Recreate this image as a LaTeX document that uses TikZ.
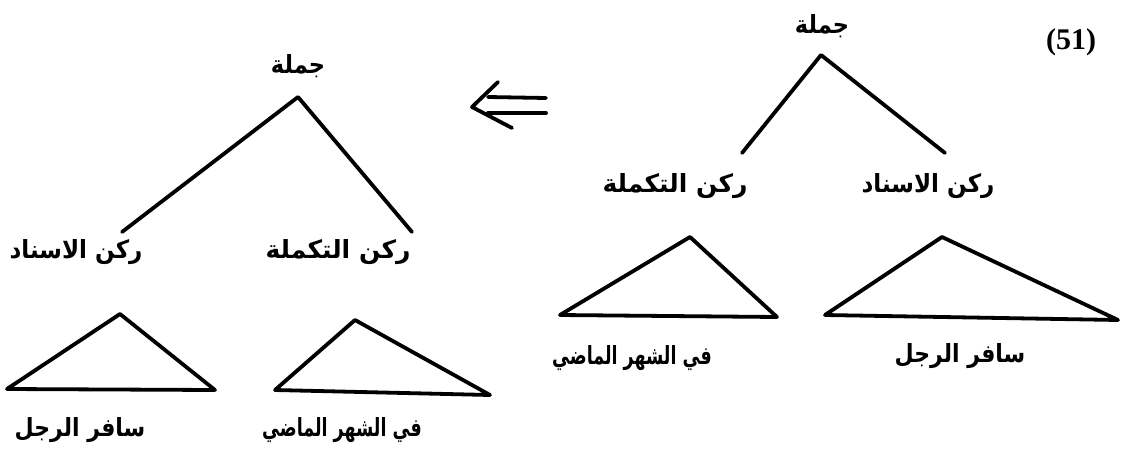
\documentclass[tikz,border=0pt]{standalone}
\usepackage{fontspec}
\usepackage{graphicx}
\usepackage{tikz}
\usetikzlibrary{positioning}
\TeXXeTstate=1
\newfontfamily\arabicfont[Script=Arabic,BoldFont={DejaVu Sans Bold}]{DejaVu Sans}
\setmainfont{Liberation Serif}

\begin{document}
\begin{tikzpicture}[
    x=1pt, y=-1pt,
    treeline/.style={line width=3.8pt, line join=round, line cap=round},
    lbl/.style={inner sep=0pt, font=\arabicfont\bfseries\fontsize{25}{30}\selectfont},
    every node/.style={inner sep=0pt}
]
\useasboundingbox (0,0) rectangle (1126,466);

% Example number
\node[font=\bfseries\fontsize{30}{34}\selectfont] (num) at (1071,42) {(51)};

% Right tree (before)
\node[lbl] (rootR) at (822,26) {\scalebox{0.9}[1]{\beginR جملة\endR}};
\coordinate (apexR) at (821,55);
\coordinate (endRL) at (742,153);
\coordinate (endRR) at (945,153);
\node[lbl] (takmilaR) at (675,186) {\beginR ركن التكملة\endR};
\node[lbl] (isnadR) at (928,186) {\scalebox{0.92}[1]{\beginR ركن الاسناد\endR}};

\draw[treeline] (endRL) -- (apexR) -- (endRR);

% Right tree triangles
\coordinate (tRLa) at (690,237);
\coordinate (tRLb) at (560,315);
\coordinate (tRLc) at (777,317);
\coordinate (tRRa) at (942,237);
\coordinate (tRRb) at (825,315);
\coordinate (tRRc) at (1118,320);
\draw[treeline] (tRLa) -- (tRLb) -- (tRLc) -- cycle;
\draw[treeline] (tRRa) -- (tRRb) -- (tRRc) -- cycle;

\node[lbl] (shahrR) at (632,358) {\scalebox{0.7}[1]{\beginR في الشهر الماضي\endR}};
\node[lbl] (safarR) at (960,356) {\scalebox{0.88}[1]{\beginR سافر الرجل\endR}};

% Arrow
\coordinate (arrTip) at (472,107);
\coordinate (arrUp) at (498,82);
\coordinate (arrLow) at (512,128);
\coordinate (arrA) at (488,97);
\coordinate (arrB) at (546,98);
\coordinate (arrC) at (488,113);
\coordinate (arrD) at (546,113);
\draw[treeline] (arrUp) -- (arrTip) -- (arrLow);
\draw[treeline] (arrA) -- (arrB);
\draw[treeline] (arrC) -- (arrD);

% Left tree (after)
\node[lbl] (rootL) at (298,66) {\scalebox{0.9}[1]{\beginR جملة\endR}};
\coordinate (apexL) at (298,97);
\coordinate (endLL) at (122,232);
\coordinate (endLR) at (412,232);
\node[lbl] (isnadL) at (76,252) {\scalebox{0.92}[1]{\beginR ركن الاسناد\endR}};
\node[lbl] (takmilaL) at (338,252) {\beginR ركن التكملة\endR};

\draw[treeline] (endLL) -- (apexL) -- (endLR);

% Left tree triangles
\coordinate (tLLa) at (120,314);
\coordinate (tLLb) at (7,389);
\coordinate (tLLc) at (215,390);
\coordinate (tLRa) at (355,320);
\coordinate (tLRb) at (275,390);
\coordinate (tLRc) at (490,395);
\draw[treeline] (tLLa) -- (tLLb) -- (tLLc) -- cycle;
\draw[treeline] (tLRa) -- (tLRb) -- (tLRc) -- cycle;

\node[lbl] (safarL) at (80,430) {\scalebox{0.88}[1]{\beginR سافر الرجل\endR}};
\node[lbl] (shahrL) at (342,430) {\scalebox{0.7}[1]{\beginR في الشهر الماضي\endR}};

\end{tikzpicture}
\end{document}
